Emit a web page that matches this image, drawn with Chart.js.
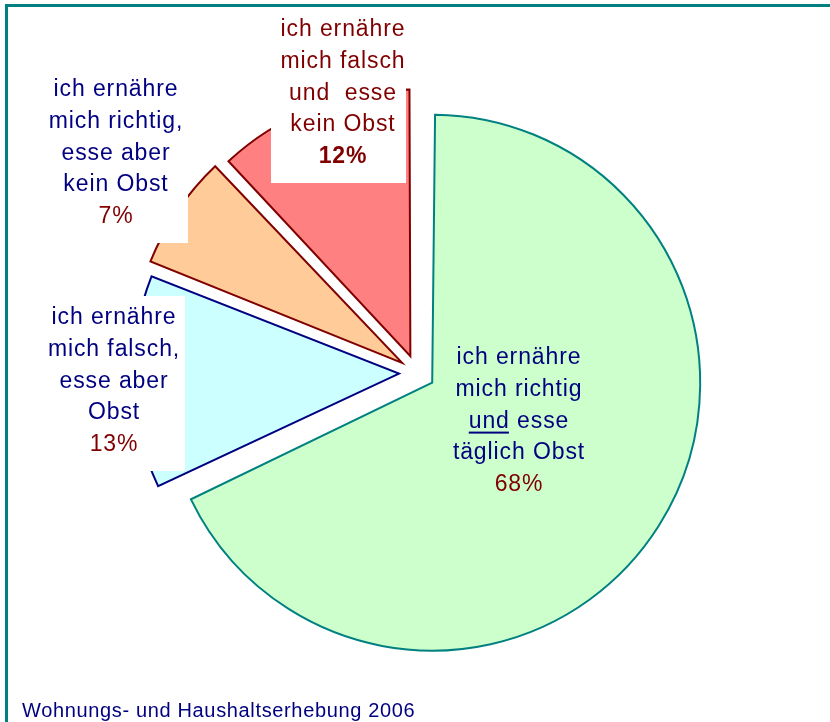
<!DOCTYPE html>
<html>
<head>
<meta charset="utf-8">
<script src="https://cdn.jsdelivr.net/npm/chart.js@4/dist/chart.umd.min.js"></script>
<style>
  body { margin: 0; background: #fff; overflow: hidden; }
  #frame {
    position: absolute; left: 5px; top: 4px; width: 900px; height: 800px;
    border-top: 3px solid #008080; border-left: 3px solid #008080;
  }
  canvas { position: absolute; left: 0; top: 0; }
</style>
</head>
<body>
<div id="frame"></div>
<canvas id="pieBig" width="830" height="722"></canvas>
<canvas id="pieSmall" width="830" height="722"></canvas>
<script>
const categories = [
  'ich ernähre\nmich richtig\nund esse\ntäglich Obst',
  'ich ernähre\nmich falsch,\nesse aber\nObst',
  'ich ernähre\nmich richtig,\nesse aber\nkein Obst',
  'ich ernähre\nmich falsch\nund  esse\nkein Obst'
];
const shares = [68, 13, 7, 12];
const sourceNote = 'Wohnungs- und Haushaltserhebung 2006';

const fillColors = ['#ccffcc', '#ccffff', '#ffcc99', '#ff8080'];
const edgeColors = ['#008080', '#000080', '#800000', '#800000'];
const textColors = ['#000080', '#000080', '#000080', '#800000'];
const percentBold = [false, false, false, true];

// where each label sits (x centre, first baseline); box = white patch behind it
const labelPlaces = [
  { x: 519, y: 364, box: null, underline: [2, 'und'] },
  { x: 114, y: 324, box: [40, 296, 145, 175] },
  { x: 116, y: 96, box: [40, 60, 148, 183] },
  { x: 343, y: 36, box: [271, 8, 135, 175] }
];

const FONT = '23px "Liberation Sans", Arial, sans-serif';
const SPACING = 0.9;
const LINE = 31.8;

const labelPlugin = {
  id: 'sliceLabels',
  afterDatasetsDraw(chart) {
    const ctx = chart.ctx;
    ctx.save();
    ctx.textAlign = 'center';
    ctx.textBaseline = 'alphabetic';
    ctx.letterSpacing = SPACING + 'px';

    labelPlaces.forEach((place, i) => {
      if (place.box) {
        ctx.fillStyle = '#fff';
        ctx.fillRect(place.box[0], place.box[1], place.box[2], place.box[3]);
      }
      const lines = categories[i].split('\n');
      ctx.font = FONT;
      lines.forEach((line, k) => {
        const y = place.y + k * LINE;
        ctx.fillStyle = textColors[i];
        ctx.fillText(line, place.x, y);
        if (place.underline && place.underline[0] === k) {
          const w = ctx.measureText(line).width;
          const uw = ctx.measureText(place.underline[1]).width - SPACING;
          ctx.fillRect(place.x - w / 2, y + 4, uw, 2);
        }
      });
      ctx.font = (percentBold[i] ? 'bold ' : '') + FONT;
      ctx.fillStyle = '#800000';
      ctx.fillText(shares[i] + '%', place.x, place.y + lines.length * LINE);
    });

    ctx.textAlign = 'left';
    ctx.letterSpacing = '0.65px';
    ctx.font = '20px "Liberation Sans", Arial, sans-serif';
    ctx.fillStyle = '#000080';
    ctx.fillText(sourceNote, 22, 717);
    ctx.restore();
  }
};

// the big slice and the small ones are exploded by the same distance,
// but Chart.js grows the radius of a >180° slice by its offset, so they
// are drawn on two stacked canvases with their own radius
function drawPie(canvasId, showSlice, radius, extraPlugins) {
  const hide = (colors) => colors.map((c, i) => (showSlice(i) ? c : 'rgba(0,0,0,0)'));
  return new Chart(document.getElementById(canvasId), {
    type: 'pie',
    data: {
      labels: categories,
      datasets: [{
        data: shares,
        backgroundColor: hide(fillColors),
        borderColor: hide(edgeColors),
        borderWidth: 2,
        borderJoinStyle: 'miter',
        offset: 72,
        radius: radius
      }]
    },
    options: {
      responsive: false,
      animation: false,
      events: [],
      layout: { padding: { left: 4, top: 24, right: 0, bottom: 0 } },
      plugins: {
        legend: { display: false },
        tooltip: { enabled: false }
      }
    },
    plugins: extraPlugins
  });
}

drawPie('pieBig', i => i === 0, 250, []);
drawPie('pieSmall', i => i !== 0, 261, [labelPlugin]);
</script>
</body>
</html>
